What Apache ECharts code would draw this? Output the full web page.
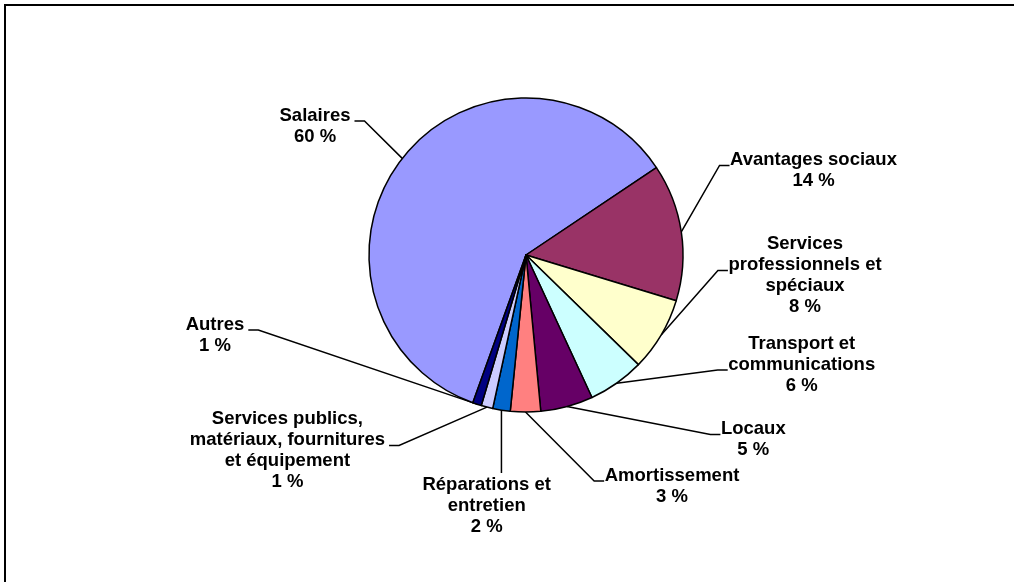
<!DOCTYPE html>
<html>
<head>
<meta charset="utf-8">
<script src="https://cdn.jsdelivr.net/npm/echarts@6/dist/echarts.min.js"></script>
<style>
  html, body { margin: 0; padding: 0; background: #fff; }
  #chart { width: 1014px; height: 582px; }
</style>
</head>
<body>
<div id="chart"></div>
<script>
// Répartition des dépenses (en % du total)
const categories = [
  'Salaires',
  'Avantages sociaux',
  'Services\nprofessionnels et\nspéciaux',
  'Transport et\ncommunications',
  'Locaux',
  'Amortissement',
  'Réparations et\nentretien',
  'Services publics,\nmatériaux, fournitures\net équipement',
  'Autres'
];
const shares = [60.1, 14.1, 7.6, 5.8, 5.4, 3.1, 1.8, 1.2, 0.9];

const sliceColors = [
  '#9999FF', '#993366', '#FFFFCC', '#CCFFFF', '#660066',
  '#FF8080', '#0066CC', '#CCCCFF', '#000080'
];

// Label placement: centre x, top y, line the leader joins, side of the leader
const labelSpots = [
  [315, 105, 0, 'left'],
  [813.5, 149.5, 0, 'right'],
  [805, 233.5, 1, 'right'],
  [801.7, 333, 1, 'right'],
  [753.3, 418.5, 0, 'right'],
  [672, 465, 0, 'right'],
  [486.7, 474, 0, 'top'],
  [287.4, 408.5, 1, 'left'],
  [215, 314, 0, 'left']
];

const FONT_SIZE = 18.5;
const LINE_H = 21;
const FONT_FAMILY = '"Liberation Sans", Arial, sans-serif';

const measureCtx = document.createElement('canvas').getContext('2d');
measureCtx.font = 'bold ' + FONT_SIZE + 'px ' + FONT_FAMILY;
function textWidth(str) { return measureCtx.measureText(str).width; }

const chart = echarts.init(document.getElementById('chart'), null, { renderer: 'canvas' });

chart.setOption({
  animation: false,
  backgroundColor: '#ffffff',
  graphic: [{
    type: 'polyline',
    silent: true,
    shape: { points: [[5, 582], [5, 5], [1014, 5]] },
    style: { stroke: '#000', lineWidth: 2, fill: null }
  }],
  series: [{
    type: 'pie',
    center: [526, 255],
    radius: 157,
    startAngle: 250.2,
    clockwise: true,
    percentPrecision: 0,
    avoidLabelOverlap: false,
    emphasis: { disabled: true },
    data: categories.map((name, i) => ({
      name: name,
      value: shares[i],
      itemStyle: { color: sliceColors[i] }
    })),
    itemStyle: { borderColor: '#000', borderWidth: 1.5 },
    label: {
      show: true,
      position: 'outside',
      color: '#000',
      fontWeight: 'bold',
      fontSize: FONT_SIZE,
      lineHeight: LINE_H,
      fontFamily: FONT_FAMILY,
      formatter: p => p.name + '\n' + p.percent + ' %'
    },
    labelLine: {
      show: true,
      length: 10,
      length2: 10,
      smooth: false,
      lineStyle: { color: '#000', width: 1.5 }
    },
    labelLayout: function (params) {
      const spot = labelSpots[params.dataIndex];
      const cx = spot[0], top = spot[1], lineIdx = spot[2], side = spot[3];
      const a = params.labelLinePoints[0];
      const anchor = [a[0], a[1]];
      const lines = String(params.text).split('\n');
      let pts;
      if (side === 'top') {
        const y = top - 1;
        pts = [anchor, [anchor[0], y], [anchor[0], y]];
      } else {
        const w = textWidth(lines[lineIdx]);
        const y = top + 16 + LINE_H * lineIdx;
        const end = side === 'right' ? cx - w / 2 - 0.5 : cx + w / 2 + 4;
        const elbow = side === 'right' ? end - 10 : end + 10;
        pts = [anchor, [elbow, y], [end, y]];
      }
      return {
        x: cx,
        y: top,
        align: 'center',
        verticalAlign: 'top',
        labelLinePoints: pts
      };
    }
  }]
});
</script>
</body>
</html>
